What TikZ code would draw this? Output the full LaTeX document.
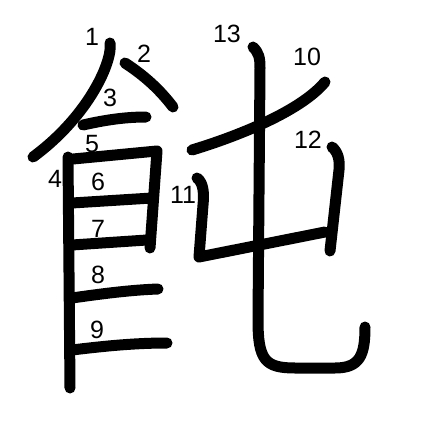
\documentclass[tikz,border=0pt]{standalone}
\usepackage{fontspec}
\newfontfamily\numfont{Liberation Sans}
\begin{document}
\begin{tikzpicture}[x=1pt, y=-1pt,
  kstroke/.style={line width=11pt, line cap=round, line join=round},
  num/.style={font=\numfont\fontsize{25}{25}\selectfont, anchor=base, inner sep=0pt}]
  \useasboundingbox (0,0) rectangle (447,447);
  % left part
  \begin{scope}[kstroke]
    \draw (110,43) .. controls (113,60) and (90,115) .. (33,157);
    \draw (125,63) .. controls (145,76) and (160,90) .. (173,107);
    \draw (83,125) .. controls (105,120) and (125,117) .. (146,117);
    \draw (68,157) -- (70,388);
    \draw (73,159) -- (157,151) -- (150,248);
    \draw (72,203) -- (152,198);
    \draw (72,245) -- (147,240);
    \draw (72,298) .. controls (100,294) and (130,290) .. (158,289);
    \draw (72,350) .. controls (105,346) and (135,343) .. (167,343);
  \end{scope}
  % right part
  \begin{scope}[kstroke]
    \draw (192,150) .. controls (235,137) and (300,112) .. (325,82);
    \draw (197,178) .. controls (204,183) and (204,195) .. (203,205)
      -- (199,257) -- (325,232);
    \draw (332,147) .. controls (338,152) and (340,160) .. (339,170) -- (330,251);
    \draw (253,47) .. controls (259,53) and (260,58) .. (260,68) -- (258,320)
      .. controls (258,360) and (265,368) .. (295,368) -- (335,368)
      .. controls (360,368) and (365,355) .. (365,327);
  \end{scope}
  % stroke numbers
  \foreach \n/\x/\y in {1/92/45, 2/144/62, 3/110/106, 4/55/187, 5/92/152,
      6/98/190, 7/98/237, 8/98/283, 9/97/338, 10/307/65, 11/183/203,
      12/308/148, 13/227/42}
    \node[num] (n\n) at (\x,\y) {\n};
\end{tikzpicture}
\end{document}
